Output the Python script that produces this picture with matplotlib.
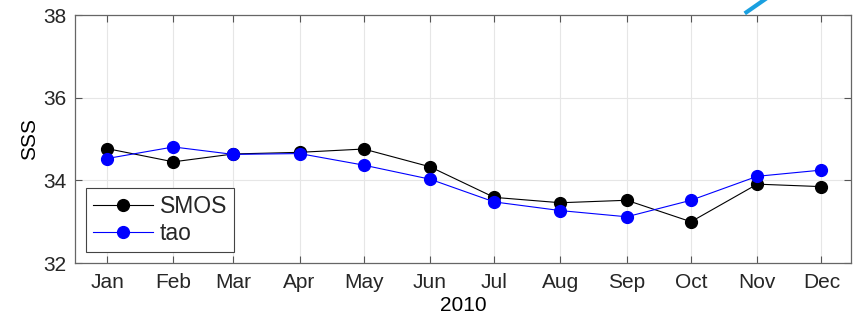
import matplotlib
matplotlib.use("Agg")
import matplotlib.pyplot as plt
import matplotlib.dates as mdates
from matplotlib.lines import Line2D
import datetime as dt

plt.rcParams['font.family'] = ['Liberation Sans', 'DejaVu Sans']
plt.rcParams['text.color'] = '#262626'
plt.rcParams['xtick.labelcolor'] = '#262626'
plt.rcParams['ytick.labelcolor'] = '#262626'

months = ["Jan", "Feb", "Mar", "Apr", "May", "Jun",
          "Jul", "Aug", "Sep", "Oct", "Nov", "Dec"]
year = 2010
smos = [34.77, 34.45, 34.64, 34.68, 34.76, 34.33,
        33.59, 33.46, 33.52, 33.00, 33.91, 33.85]
tao = [34.53, 34.81, 34.63, 34.65, 34.37, 34.03,
       33.48, 33.27, 33.12, 33.52, 34.10, 34.25]
y_ticks = [32, 34, 36, 38]

dates = [dt.date(year, m, 1) for m in range(1, 13)]

fig = plt.figure(figsize=(8.56, 3.22), dpi=100)
ax = fig.add_axes([0.0876, 0.183, 0.907, 0.770])

ax.plot(dates, smos, '-o', color='black', lw=0.8, ms=8.5,
        mfc='black', mec='black', label='SMOS')
ax.plot(dates, tao, '-o', color='blue', lw=0.8, ms=8.5,
        mfc='blue', mec='blue', label='tao')

ax.set_xlim(dt.date(year - 1, 12, 17), dt.date(year, 12, 15))
ax.set_ylim(32, 38)
ax.set_yticks(y_ticks)
ax.set_xticks(dates)
ax.xaxis.set_major_formatter(mdates.DateFormatter('%b'))

ax.grid(True, color='#e6e6e6', lw=0.8)
ax.tick_params(direction='in', top=True, right=True, length=5,
               width=0.8, color='#555555', labelsize=15)
ax.tick_params(axis='x', pad=7)
ax.tick_params(axis='y', pad=6)
for s in ax.spines.values():
    s.set_color('#666666')
    s.set_linewidth(0.9)

ax.set_ylabel('SSS', fontsize=15, labelpad=3)
ax.set_xlabel(str(year), fontsize=15, labelpad=3)

leg = ax.legend(loc='lower left', fontsize=16.5, handlelength=2.6,
                borderaxespad=0.5, fancybox=False, framealpha=1,
                edgecolor='#444444', borderpad=0.3, labelspacing=0.15,
                handletextpad=0.3)
leg.get_frame().set_linewidth(0.8)

fig.add_artist(Line2D([0.872, 0.898], [0.962, 1.01], color='#1aa0e0',
                      lw=3, transform=fig.transFigure))

fig.savefig('out.png', dpi=100)
